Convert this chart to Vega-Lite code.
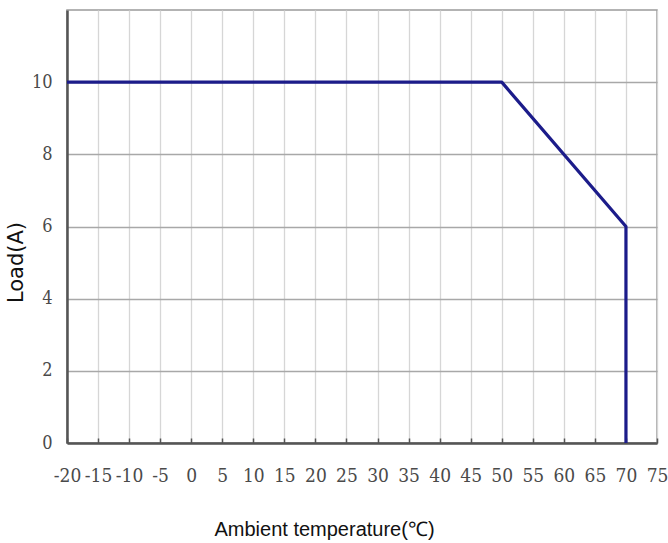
{
  "$schema": "https://vega.github.io/schema/vega-lite/v6.json",
  "width": 590,
  "height": 433,
  "autosize": "none",
  "padding": {"left": 67, "top": 10, "right": 11, "bottom": 100},
  "background": "white",
  "config": {"view": {"stroke": "#9a9a9a", "strokeWidth": 1.5}},
  "data": {"values": [
    {"t": -20, "load": 10, "o": 1},
    {"t": 50, "load": 10, "o": 2},
    {"t": 70, "load": 6, "o": 3},
    {"t": 70, "load": 0, "o": 4}
  ]},
  "mark": {"type": "line", "color": "#1c1c8a", "strokeWidth": 3.2, "strokeJoin": "round"},
  "encoding": {
    "order": {"field": "o", "type": "quantitative"},
    "x": {
      "field": "t", "type": "quantitative",
      "scale": {"domain": [-20, 75], "nice": false, "zero": false},
      "axis": {
        "values": [-20,-15,-10,-5,0,5,10,15,20,25,30,35,40,45,50,55,60,65,70,75],
        "labelExpr": "datum.value + ''",
        "title": "Ambient temperature(℃)",
        "titleFont": "Liberation Sans", "titleFontSize": 20, "titleFontWeight": "normal", "titleColor": "#111",
        "titleX": 257, "titleY": 76,
        "labelFont": "DejaVu Serif Condensed", "labelFontSize": 19, "labelColor": "#4a4a4a",
        "labelPadding": 28, "labelFlush": false, "labelOverlap": false,
        "tickSize": -5, "tickColor": "#555", "tickWidth": 1.5,
        "domainColor": "#555", "domainWidth": 2.5,
        "gridColor": "#d6d6d6", "gridWidth": 1.3
      }
    },
    "y": {
      "field": "load", "type": "quantitative",
      "scale": {"domain": [0, 12], "nice": false},
      "axis": {
        "values": [0, 2, 4, 6, 8, 10],
        "title": "Load(A)",
        "titleFont": "DejaVu Sans", "titleFontSize": 21, "titleFontWeight": "normal", "titleColor": "#111",
        "titleX": -41, "titleY": 252,
        "labelFont": "DejaVu Serif Condensed", "labelFontSize": 18, "labelColor": "#4a4a4a",
        "labelPadding": 15,
        "ticks": false,
        "domainColor": "#555", "domainWidth": 2.5,
        "gridColor": "#a8a8a8", "gridWidth": 1.3
      }
    }
  }
}
